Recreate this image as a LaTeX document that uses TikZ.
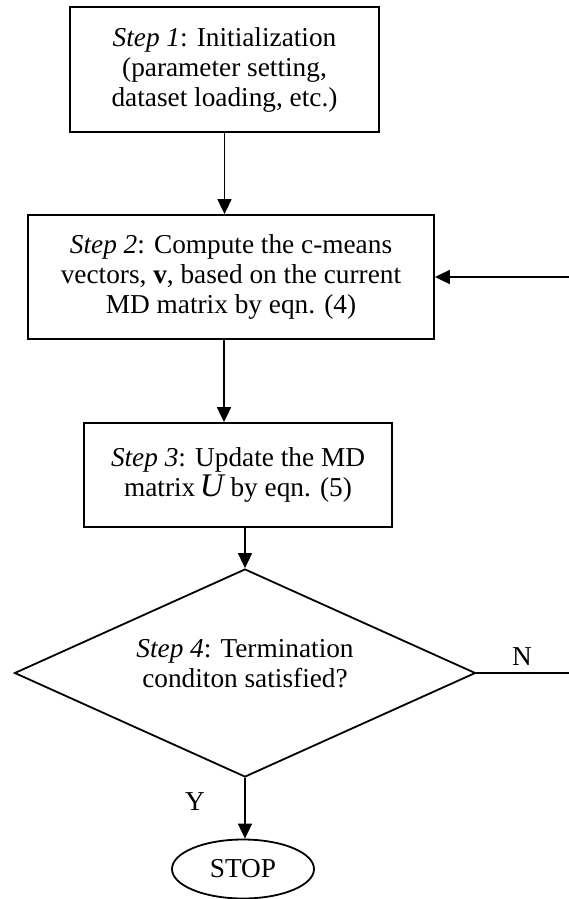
\documentclass[tikz,border=0pt]{standalone}
\usepackage{fontspec}
\setmainfont{Liberation Serif}
\usetikzlibrary{arrows.meta,shapes.geometric}
\begin{document}
\begin{tikzpicture}[x=1pt,y=-1pt,
  every node/.style={font=\fontsize{27.3}{30}\selectfont},
  ln/.style={line width=1.8pt},
  boxnode/.style={draw,ln,inner sep=0pt,align=center},
  arr/.style={ln,-{Triangle[length=15pt,width=14pt]}}]
\useasboundingbox (0,0) rectangle (569,899);
% boxes
\node[boxnode,minimum width=309pt,minimum height=125pt] (s1) at (224.5,69.5)
  {\textit{Step 1}: Initialization\\(parameter setting,\\dataset loading, etc.)};
\node[boxnode,minimum width=406pt,minimum height=124pt] (s2) at (231,277)
  {\textit{Step 2}: Compute the c-means\\vectors, \textbf{v}, based on the current\\MD matrix by eqn. (4)};
\node[boxnode,minimum width=308pt,minimum height=104pt] (s3) at (238,475)
  {\textit{Step 3}: Update the MD\\matrix\,{\fontsize{33}{30}\selectfont\itshape U} by eqn. (5)};
% decision
\node[draw,ln,shape=diamond,minimum width=461pt,minimum height=208pt,inner sep=0pt] (d) at (245,673) {};
\node[align=center] (q) at (245,664) {\textit{Step 4}: Termination\\conditon satisfied?};
% stop
\node[draw,ln,ellipse,minimum width=142pt,minimum height=59pt,inner sep=0pt] (stop) at (243,869) {STOP};
% labels
\node (N) at (522,657) {N};
\node (Y) at (195,802) {Y};
% free ends
\coordinate (fb) at (569,277);
\coordinate (ne) at (569,673);
% connectors
\draw[arr] (s1.south) -- (s1.south |- s2.north);
\draw[arr] ([xshift=-7pt]s2.south) -- ([xshift=-7pt]s2.south |- s3.north);
\draw[arr] (d.north |- s3.south) -- (d.north);
\draw[arr] (fb) -- (s2.east);
\draw[ln] (d.east) -- (ne);
\draw[arr] (d.south) -- (d.south |- stop.north);
\end{tikzpicture}
\end{document}
